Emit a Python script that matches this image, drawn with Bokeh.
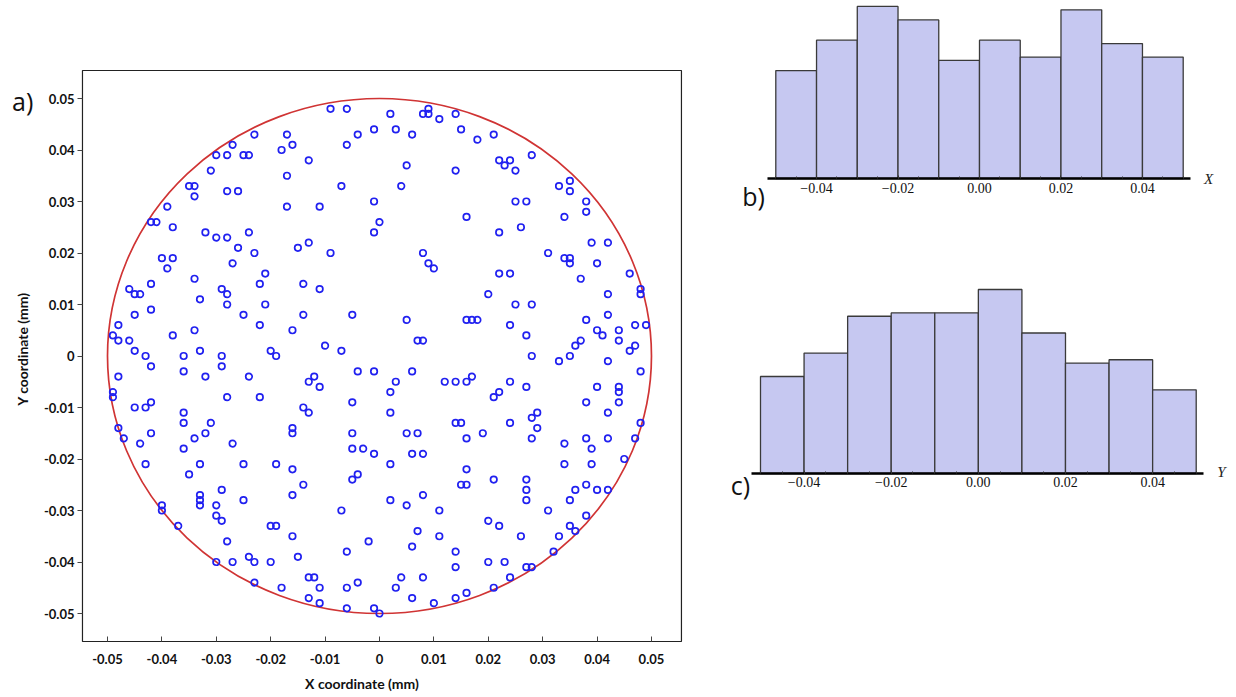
from bokeh.plotting import figure
from bokeh.layouts import row, column
from bokeh.models import FixedTicker, Label, Range1d, LinearAxis
from bokeh.embed import file_html
from bokeh.resources import INLINE

# ---------------- data ----------------
# a) particle positions (mm)
pos_x = [
    -0.023, -0.017, -0.027, -0.030, -0.028, -0.025, -0.024, -0.018, -0.031, -0.017,
    -0.035, -0.034, -0.034, -0.028, -0.026, -0.017, -0.039, -0.042, -0.041, -0.038,
    -0.032, -0.030, -0.028, -0.024, -0.026, -0.023, -0.040, -0.038, -0.039, -0.027, -0.021,
    -0.009, -0.006, 0.002, 0.008, 0.009, 0.009, 0.011, 0.014, -0.001, 0.003,
    -0.004, 0.006, 0.015, -0.016, -0.006, -0.013, 0.005, 0.014, -0.007, 0.004,
    -0.001, -0.011, 0.000, -0.001, 0.016, -0.015, -0.013, -0.009, 0.008, 0.009, 0.010,
    0.018, 0.021, 0.028, 0.022, 0.023, 0.024, 0.025, 0.035, 0.033, 0.035,
    0.025, 0.027, 0.038, 0.038, 0.034, 0.026, 0.022, 0.039, 0.042, 0.031,
    0.034, 0.035, 0.035, 0.040,
    -0.034, -0.042, -0.046, -0.045, -0.044, -0.029, -0.028, -0.022, -0.033, -0.028,
    -0.021, -0.042, -0.045, -0.025, -0.048, -0.022, -0.034, -0.049, -0.048, -0.038,
    -0.046, -0.045, -0.033, -0.020, -0.019, -0.043, -0.036, -0.029, -0.029, -0.042,
    -0.036, -0.032, -0.048, -0.024, -0.049, -0.049, -0.028, -0.022, -0.045, -0.043,
    -0.042, -0.036, -0.036, -0.031, -0.048, -0.047, -0.042, -0.032, -0.034, -0.044, -0.027,
    -0.014, -0.011, -0.014, -0.005, 0.005, 0.016, -0.016, 0.007, 0.008, -0.010,
    -0.007, -0.004, -0.001, 0.006, -0.012, -0.013, -0.011, 0.003, 0.002, 0.012,
    0.014, 0.016, 0.017, -0.005, -0.014, -0.013, 0.002, -0.016, -0.016, -0.005,
    0.005, 0.007, 0.014, 0.015, 0.016,
    0.017, 0.018, 0.022, 0.024, 0.046, 0.037, 0.048, 0.048, 0.020, 0.042,
    0.025, 0.028, 0.038, 0.042, 0.024, 0.047, 0.049, 0.040, 0.041, 0.044,
    0.044, 0.027, 0.037, 0.036, 0.047, 0.046, 0.035, 0.033, 0.028, 0.042,
    0.048, 0.024, 0.027, 0.022, 0.021, 0.040, 0.044, 0.044, 0.044, 0.038,
    0.042, 0.029, 0.028, 0.029, 0.024, 0.019, 0.048, 0.028, 0.034, 0.038, 0.042, 0.047,
    -0.036, -0.043, -0.033, -0.025, -0.019, -0.035, -0.029, -0.033, -0.033, -0.033,
    -0.030, -0.025, -0.040, -0.040, -0.030, -0.029, -0.037, -0.020, -0.019, -0.028,
    -0.030, -0.027, -0.024, -0.023, -0.020, -0.023, -0.018,
    -0.005, -0.003, -0.001, 0.006, 0.008, 0.002, -0.016, 0.016, -0.004, -0.005,
    -0.014, -0.016, 0.015, 0.016, 0.008, 0.002, 0.005, -0.007, 0.011, 0.007,
    -0.002, -0.016, 0.011, 0.006, -0.006, 0.014, -0.015, 0.014, -0.013, -0.012,
    -0.011, 0.004, 0.008, 0.003, -0.006, -0.004, -0.013, -0.011, -0.006, -0.001,
    0.000, 0.006, 0.010, 0.014, 0.016,
    0.039, 0.034, 0.039, 0.045, 0.021, 0.027, 0.027, 0.027, 0.036, 0.038,
    0.040, 0.042, 0.035, 0.031, 0.038, 0.020, 0.022, 0.035, 0.036, 0.033,
    0.026, 0.032, 0.020, 0.023, 0.027, 0.028, 0.024, 0.021,
]
pos_y = [
    0.043, 0.043, 0.041, 0.039, 0.039, 0.039, 0.039, 0.040, 0.036, 0.035,
    0.033, 0.033, 0.031, 0.032, 0.032, 0.029, 0.029, 0.026, 0.026, 0.025,
    0.024, 0.023, 0.023, 0.024, 0.021, 0.020, 0.019, 0.019, 0.017, 0.018, 0.016,
    0.048, 0.048, 0.047, 0.047, 0.048, 0.047, 0.046, 0.047, 0.044, 0.044,
    0.043, 0.043, 0.044, 0.041, 0.041, 0.038, 0.037, 0.036, 0.033, 0.033,
    0.030, 0.029, 0.026, 0.024, 0.027, 0.021, 0.022, 0.020, 0.020, 0.018, 0.017,
    0.042, 0.043, 0.039, 0.038, 0.037, 0.038, 0.036, 0.034, 0.033, 0.032,
    0.030, 0.030, 0.030, 0.028, 0.027, 0.025, 0.024, 0.022, 0.022, 0.020,
    0.019, 0.019, 0.018, 0.018,
    0.015, 0.014, 0.013, 0.012, 0.012, 0.013, 0.012, 0.014, 0.011, 0.010,
    0.010, 0.009, 0.008, 0.008, 0.006, 0.006, 0.005, 0.004, 0.003, 0.004,
    0.003, 0.001, 0.001, 0.001, 0.000, 0.000, 0.000, 0.000, -0.002, -0.002,
    -0.003, -0.004, -0.004, -0.004, -0.007, -0.008, -0.008, -0.008, -0.010, -0.010,
    -0.009, -0.011, -0.013, -0.013, -0.014, -0.016, -0.015, -0.015, -0.016, -0.017, -0.017,
    0.014, 0.013, 0.008, 0.008, 0.007, 0.007, 0.005, 0.003, 0.003, 0.002,
    0.001, -0.003, -0.003, -0.003, -0.004, -0.005, -0.006, -0.005, -0.007, -0.005,
    -0.005, -0.005, -0.004, -0.009, -0.010, -0.011, -0.011, -0.014, -0.015, -0.015,
    -0.015, -0.015, -0.013, -0.013, -0.016,
    0.007, 0.007, 0.016, 0.016, 0.016, 0.015, 0.013, 0.012, 0.012, 0.012,
    0.010, 0.010, 0.007, 0.008, 0.006, 0.006, 0.006, 0.005, 0.004, 0.005,
    0.003, 0.004, 0.003, 0.002, 0.002, 0.001, 0.000, -0.001, 0.000, -0.001,
    -0.003, -0.005, -0.006, -0.007, -0.008, -0.006, -0.006, -0.007, -0.009, -0.009,
    -0.011, -0.011, -0.012, -0.014, -0.013, -0.015, -0.013, -0.016, -0.017, -0.016, -0.016, -0.016,
    -0.018, -0.021, -0.021, -0.021, -0.021, -0.023, -0.026, -0.027, -0.028, -0.029,
    -0.029, -0.028, -0.029, -0.030, -0.031, -0.032, -0.033, -0.033, -0.033, -0.036,
    -0.040, -0.040, -0.039, -0.040, -0.040, -0.044, -0.045,
    -0.018, -0.018, -0.019, -0.019, -0.019, -0.021, -0.022, -0.022, -0.023, -0.024,
    -0.025, -0.027, -0.025, -0.025, -0.027, -0.028, -0.029, -0.030, -0.030, -0.034,
    -0.036, -0.035, -0.035, -0.037, -0.038, -0.038, -0.039, -0.041, -0.043, -0.043,
    -0.045, -0.043, -0.043, -0.045, -0.045, -0.044, -0.047, -0.048, -0.049, -0.049,
    -0.050, -0.047, -0.048, -0.047, -0.046,
    -0.018, -0.021, -0.021, -0.020, -0.024, -0.024, -0.026, -0.028, -0.026, -0.025,
    -0.026, -0.026, -0.028, -0.030, -0.031, -0.032, -0.033, -0.033, -0.034, -0.035,
    -0.035, -0.038, -0.040, -0.040, -0.041, -0.041, -0.043, -0.045,
]
boundary_diameter = 0.1  # mm

a_ticks = [-0.05, -0.04, -0.03, -0.02, -0.01, 0.0, 0.01, 0.02, 0.03, 0.04, 0.05]
a_tick_labels = ["-0.05", "-0.04", "-0.03", "-0.02", "-0.01", "0",
                 "0.01", "0.02", "0.03", "0.04", "0.05"]

# b), c) histograms
bin_left = [-0.05, -0.04, -0.03, -0.02, -0.01, 0.0, 0.01, 0.02, 0.03, 0.04]
bin_right = [-0.04, -0.03, -0.02, -0.01, 0.0, 0.01, 0.02, 0.03, 0.04, 0.05]
x_counts = [32, 41, 51, 47, 35, 41, 36, 50, 40, 36]
y_counts = [29, 36, 47, 48, 48, 55, 42, 33, 34, 25]
h_ticks = [-0.04, -0.02, 0.0, 0.02, 0.04]
h_tick_labels = ["\u22120.04", "\u22120.02", "0.00", "0.02", "0.04"]
h_minor = [-0.05, -0.045, -0.04, -0.035, -0.03, -0.025, -0.02, -0.015, -0.01, -0.005,
           0.0, 0.005, 0.01, 0.015, 0.02, 0.025, 0.03, 0.035, 0.04, 0.045, 0.05]

# ---------------- layout / styles ----------------
SANS = "Lato"
LBL_FONT = "Open Sans"
SERIF = "Liberation Serif"
BAR_FILL = "#c6c8f1"
BAR_LINE = "#3a3a3a"

# panel a: visible window and plotting box (mm)
A_XR = (-0.06967, 0.06324)
A_YR = (-0.06631, 0.06903)
A_BOX = (-0.05460, 0.05551, -0.05544, 0.05544)   # left, right, bottom, top

# ---------------- panel a ----------------
pa = figure(width=723, height=697, x_range=Range1d(*A_XR), y_range=Range1d(*A_YR),
            output_backend="svg", toolbar_location=None,
            x_axis_location=None, y_axis_location=None,
            min_border_left=0, min_border_right=0, min_border_top=0, min_border_bottom=0)
pa.xgrid.visible = False
pa.ygrid.visible = False
pa.outline_line_color = None

pa.quad(left=[A_BOX[0]], right=[A_BOX[1]], bottom=[A_BOX[2]], top=[A_BOX[3]],
        fill_color=None, line_color="#222222", line_width=1.2)
pa.ellipse(x=[0.0], y=[0.0], width=[boundary_diameter], height=[boundary_diameter],
           fill_color=None, line_color="#d03434", line_width=1.7)
pa.scatter(pos_x, pos_y, marker="circle", size=6.5, fill_color=None,
           line_color="#2020f0", line_width=1.7)

overrides_a = dict(zip(a_ticks, a_tick_labels))
xa = LinearAxis(fixed_location=A_BOX[2], axis_label="X coordinate (mm)")
ya = LinearAxis(fixed_location=A_BOX[0], axis_label="Y coordinate (mm)")
for ax in (xa, ya):
    ax.ticker = FixedTicker(ticks=a_ticks, minor_ticks=[])
    ax.major_label_overrides = overrides_a
    ax.major_label_text_font = SANS
    ax.major_label_text_font_style = "bold"
    ax.major_label_text_font_size = "13px"
    ax.major_label_text_color = "#111111"
    ax.axis_line_color = None
    ax.major_tick_line_color = "#444444"
    ax.axis_label_text_font = SANS
    ax.axis_label_text_font_style = "bold"
    ax.axis_label_text_font_size = "14px"
    ax.axis_label_text_color = "#111111"
xa.major_tick_in = 5
xa.major_tick_out = 0
xa.major_label_standoff = 12
xa.axis_label_standoff = 8
ya.major_tick_in = 0
ya.major_tick_out = 5
ya.major_label_standoff = 3
ya.axis_label_standoff = 10
pa.add_layout(xa, "below")
pa.add_layout(ya, "left")

pa.add_layout(Label(x=-0.0656, y=0.0496, text="a)",
                    text_font=LBL_FONT, text_font_size="25px", text_align="center",
                    text_baseline="middle", text_color="#111111"))


# ---------------- histogram helper ----------------
def hist_fig(height, xr, yr, axis_span, counts, axis_name, name_pos, panel, panel_pos):
    p = figure(width=513, height=height, x_range=Range1d(*xr), y_range=Range1d(*yr),
               output_backend="svg", toolbar_location=None,
               x_axis_location=None, y_axis_location=None,
               min_border_left=0, min_border_right=0, min_border_top=0, min_border_bottom=0)
    p.xgrid.visible = False
    p.ygrid.visible = False
    p.outline_line_color = None
    p.quad(left=bin_left, right=bin_right, bottom=0, top=counts,
           fill_color=BAR_FILL, line_color=BAR_LINE, line_width=1.3)
    p.segment(x0=[axis_span[0]], y0=[0], x1=[axis_span[1]], y1=[0],
              line_color="black", line_width=2.5)
    ax = LinearAxis(fixed_location=0)
    ax.ticker = FixedTicker(ticks=h_ticks, minor_ticks=h_minor)
    ax.major_label_overrides = dict(zip(h_ticks, h_tick_labels))
    ax.axis_line_color = None
    ax.major_tick_in = 3
    ax.major_tick_out = 0
    ax.minor_tick_in = 2
    ax.minor_tick_out = 0
    ax.major_tick_line_color = "#333333"
    ax.minor_tick_line_color = "#333333"
    ax.major_label_standoff = 4
    ax.major_label_text_font = SERIF
    ax.major_label_text_font_size = "14px"
    ax.major_label_text_color = "#111111"
    p.add_layout(ax, "below")
    p.add_layout(Label(x=name_pos[0], y=name_pos[1], text=axis_name, text_font=SERIF,
                       text_font_style="italic", text_font_size="15px",
                       text_align="center", text_baseline="middle", text_color="#222222"))
    p.add_layout(Label(x=panel_pos[0], y=panel_pos[1], text=panel, text_font=LBL_FONT,
                       text_font_size="25px", text_align="center",
                       text_baseline="middle", text_color="#111111"))
    return p


pb = hist_fig(228, (-0.062837, 0.063083), (-14.82, 52.77), (-0.05204, 0.05179),
              x_counts, "X", (0.0562, 0.0), "b)", (-0.05547, -5.04))
pc = hist_fig(469, (-0.058492, 0.059249), (-66.97, 73.24), (-0.052066, 0.051676),
              y_counts, "Y", (0.0558, 0.3), "c)", (-0.05459, -3.59))

layout = row(pa, column(pb, pc))
open("out.html", "w").write(file_html(layout, INLINE))
